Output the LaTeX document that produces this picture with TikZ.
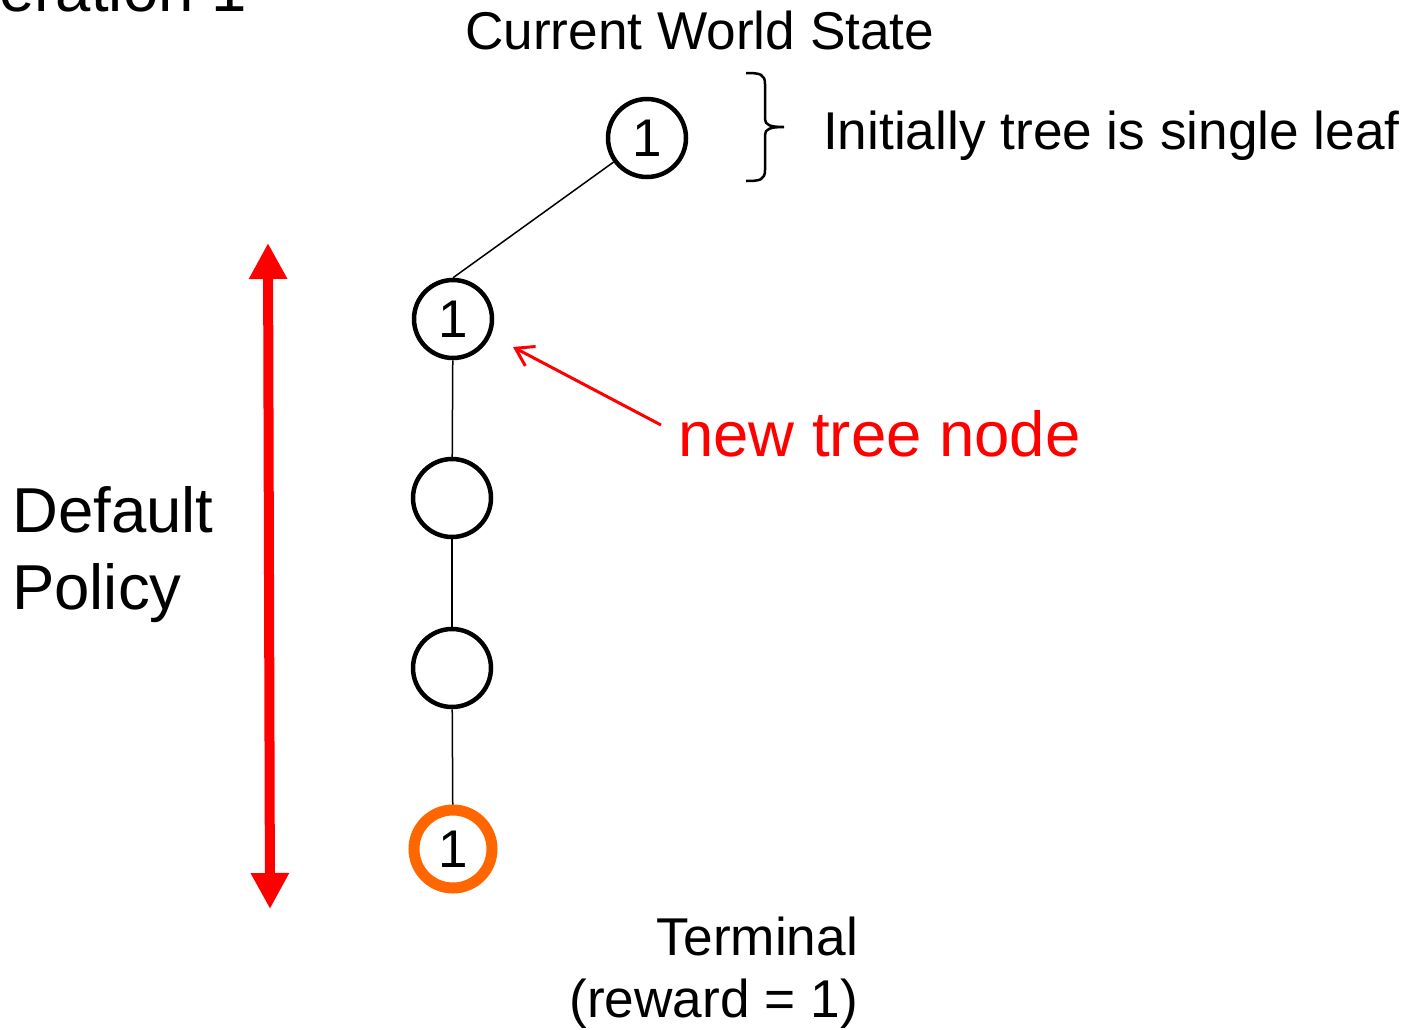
\documentclass[tikz,border=0pt]{standalone}
\usepackage{fontspec}
\setmainfont{Liberation Sans}
\usetikzlibrary{arrows.meta}
\definecolor{hotred}{HTML}{FF0000}
\definecolor{termorange}{HTML}{FF6600}
\begin{document}
\begin{tikzpicture}[x=1pt,y=-1pt,
  statenode/.style={circle,draw=black,line width=4.5pt,minimum size=78pt,inner sep=0pt,
    font=\fontsize{53}{60}\selectfont},
  terminalnode/.style={statenode,draw=termorange,line width=11pt},
  edgeline/.style={line width=1.5pt},
  caption/.style={inner sep=0pt,font=\fontsize{53.2}{62}\selectfont},
  bigcaption/.style={inner sep=0pt,font=\fontsize{63.5}{77}\selectfont},
]
\useasboundingbox (0,0) rectangle (1408,1029);
\clip (0,0) rectangle (1408,1029);

% title, partly off the left edge
\node[bigcaption,anchor=base west] (title) at (-36,11) {Iteration 1};

% tree nodes
\node[statenode] (root) at (647,138) {1};
\node[statenode] (n1) at (453,319) {1};
\node[statenode] (n2) at (452,498) {};
\node[statenode] (n3) at (452,668) {};
\node[terminalnode] (term) at (453,849) {1};

\draw[edgeline] (root) -- (n1.north);
\draw[edgeline] (n1) -- (n2);
\draw[edgeline] (n2) -- (n3);
\draw[edgeline] (n3) -- (term);

% labels (multi-line nodes are placed by the baseline of their last line)
\node[caption,anchor=base west] (cws) at (465,49) {Current World State};
\node[caption,anchor=base west] (single) at (823,149) {Initially tree is single leaf};
\node[caption,anchor=base east,align=right] (terminal) at (858,1017) {Terminal\\(reward = 1)};
\node[bigcaption,anchor=base west,align=left] (policy) at (12,609) {Default\\Policy};
\node[bigcaption,anchor=base west,text=hotred] (newnode) at (678,456) {new tree node};

% brace beside the root
\coordinate (bt) at (746,73);
\coordinate (bb) at (746,181);
\coordinate (btip) at (784,127);
\draw[line width=2.5pt]
  (bt) .. controls (760,73) and (765,74) .. (765,84)
  -- (765,119) .. controls (765,125) and (770,127) .. (btip)
  (btip) .. controls (770,127) and (765,129) .. (765,135)
  -- (765,170) .. controls (765,180) and (760,181) .. (bb);

% pointer to the new tree node
\coordinate (ptail) at (661,425);
\draw[hotred,line width=3pt,-{Straight Barb[length=17pt,width=22pt]}] (ptail) -- (513,347);

% default policy span
\coordinate (spantop) at (268,243);
\coordinate (spanbot) at (270,909);
\draw[hotred,line width=10pt,{Triangle[width=36pt,length=36pt]}-{Triangle[width=36pt,length=36pt]}] (spantop) -- (spanbot);
\end{tikzpicture}
\end{document}
